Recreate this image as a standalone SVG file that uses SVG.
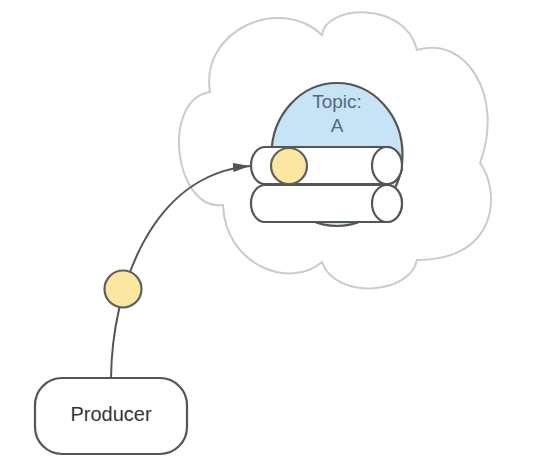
<svg xmlns="http://www.w3.org/2000/svg" width="533" height="466" viewBox="0 0 533 466">
  <style>
    .dark { stroke: #555555; stroke-width: 2.2; }
    .cyl { fill: #ffffff; }
    .msg { fill: #fbe7a0; stroke: #5f5f5f; stroke-width: 2.2; }
    .lbl { font-family: "Liberation Sans", Arial, sans-serif; font-size: 19px; text-anchor: middle; }
  </style>
  <defs>
    <marker id="arrow" markerUnits="userSpaceOnUse" markerWidth="18" markerHeight="10" refX="17" refY="4.5" orient="auto">
      <path d="M0,0 L17,4.5 L0,9 Z" fill="#555555"/>
    </marker>
  </defs>
  <rect width="533" height="466" fill="#ffffff"/>

  <g id="cloud">
    <path d="M210,92 C200,30 280,-5 322,35 C325,5 405,0 417,50 C465,35 505,95 480,163 C500,190 500,260 417,260 C410,295 335,300 322,262 C290,290 225,265 223,205 C175,212 160,100 210,92 Z" fill="#ffffff" stroke="#cbcbcb" stroke-width="2"/>
  </g>

  <g id="topic">
    <ellipse cx="337" cy="154.5" rx="65.5" ry="71.5" fill="#c6e4f5" class="dark"/>
    <text class="lbl" x="337" y="108" fill="#55687a">Topic:</text>
    <text class="lbl" x="337" y="132" fill="#55687a">A</text>
  </g>

  <g id="partition-1">
    <path class="cyl dark" d="M265,147 H387 A15,18.5 0 0 1 387,184 H265 A14,18.5 0 0 1 265,147 Z"/>
    <ellipse class="cyl dark" cx="387" cy="165.5" rx="15" ry="18.5"/>
  </g>

  <g id="partition-2">
    <path class="cyl dark" d="M265,185 H387 A15,18.5 0 0 1 387,222 H265 A14,18.5 0 0 1 265,185 Z"/>
    <ellipse class="cyl dark" cx="387" cy="203.5" rx="15" ry="18.5"/>
  </g>

  <g id="stored-message">
    <circle class="msg" cx="289" cy="166" r="18"/>
  </g>

  <g id="connectors">
    <path d="M111,378 C112,290 150,175 250,166" fill="none" stroke="#555555" stroke-width="2" marker-end="url(#arrow)"/>
  </g>

  <g id="message">
    <circle class="msg" cx="123" cy="289" r="18.5"/>
  </g>

  <g id="producer">
    <rect x="35" y="378" width="152" height="76" rx="27" ry="27" fill="#ffffff" class="dark"/>
    <text class="lbl" x="111" y="421" fill="#333333" style="font-size:20px">Producer</text>
  </g>
</svg>
